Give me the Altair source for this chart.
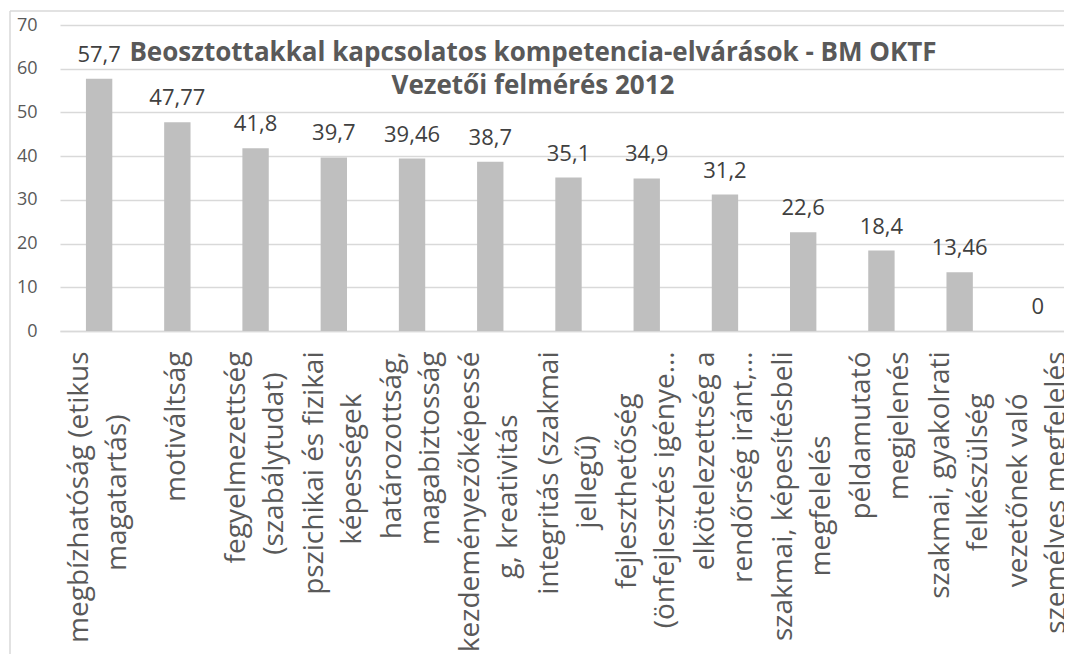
import altair as alt
import pandas as pd

# ---- data ----
category_lines = [
    ["megbízhatóság (etikus", "magatartás)"],
    ["motiváltság"],
    ["fegyelmezettség", "(szabálytudat)"],
    ["pszichikai és fizikai", "képességek"],
    ["határozottság,", "magabiztosság"],
    ["kezdeményezőképessé", "g, kreativitás"],
    ["integritás (szakmai", "jellegű)"],
    ["fejleszthetőség", "(önfejlesztés igénye…"],
    ["elkötelezettség a", "rendőrség iránt,…"],
    ["szakmai, képesítésbeli", "megfelelés"],
    ["példamutató", "megjelenés"],
    ["szakmai, gyakolrati", "felkészülség"],
    ["vezetőnek való", "személyes megfelelés"],
]
values = [57.7, 47.77, 41.8, 39.7, 39.46, 38.7, 35.1, 34.9, 31.2, 22.6, 18.4, 13.46, 0]
y_ticks = [0, 10, 20, 30, 40, 50, 60, 70]
title_lines = [
    "Beosztottakkal kapcsolatos kompetencia-elvárások - BM OKTF",
    "Vezetői felmérés 2012",
]

# ---- wrapped-label centring (Excel centres the lines of a wrapped label) ----
# approximate Open Sans advance widths (em) used only to pad shorter lines
_W = {
    "a": .556, "á": .556, "b": .613, "c": .48, "d": .613, "e": .561, "é": .561,
    "f": .336, "g": .537, "h": .613, "i": .258, "í": .258, "j": .258, "k": .525,
    "l": .258, "m": .928, "n": .613, "o": .602, "ó": .602, "ö": .602, "ő": .602,
    "p": .613, "r": .408, "s": .479, "t": .352, "u": .613, "ú": .613, "ü": .613,
    "ű": .613, "v": .5, "y": .5, "z": .463, " ": .26, "(": .296, ")": .296,
    ",": .245, "…": .8,
}
PAD = "\u2800"  # blank glyph (not collapsed like spaces)
PAD_EM = 0.744


def text_em(s):
    return sum(_W.get(c, .55) for c in s)


def centered(lines):
    m = max(text_em(s) for s in lines)
    return [s + PAD * int(round((m - text_em(s)) / 2 / PAD_EM)) for s in lines]


keys = ["|".join(centered(ls)) for ls in category_lines]
df = pd.DataFrame({"key": keys, "value": values})

W, H = 1004, 306
FONT = "Open Sans"
GRID = "#D9D9D9"

x_enc = alt.X(
    "key:N",
    sort=keys,
    # the category bands run a little past the visible right edge, as in the reference
    scale=alt.Scale(paddingInner=0.663, paddingOuter=0.3315, range=[0, 1017]),
    axis=alt.Axis(
        title=None,
        labelAngle=270,
        labelAlign="right",
        labelBaseline="middle",
        labelFont=FONT,
        labelFontSize=28,
        labelLineHeight=38,
        labelColor="#595959",
        labelPadding=20,
        labelLimit=600,
        labelOverlap=False,
        labelOffset={"condition": {"test": "indexof(datum.value, '|') >= 0", "value": -19}, "value": 0},
        labelExpr="split(datum.label, '|')",
        ticks=False,
        domainColor=GRID,
        domainWidth=1.5,
        grid=False,
    ),
)
y_enc = alt.Y(
    "value:Q",
    scale=alt.Scale(domain=[0, 70], nice=False),
    axis=alt.Axis(
        title=None,
        values=y_ticks,
        grid=True,
        gridColor=GRID,
        gridWidth=1.5,
        domain=False,
        ticks=False,
        labelFont=FONT,
        labelFontSize=18,
        labelColor="#595959",
        labelPadding=23,
    ),
)

base = alt.Chart(df)
bars = base.mark_bar(color="#BFBFBF").encode(x=x_enc, y=y_enc)
labels = (
    base.transform_calculate(lbl="replace(toString(datum.value), '.', ',')")
    .mark_text(baseline="alphabetic", dy=-17, fontSize=22, font=FONT, color="#404040")
    .encode(x=alt.X("key:N", sort=keys), y="value:Q", text="lbl:N")
)

one = pd.DataFrame({"a": [0]})
border_left = alt.Chart(one).mark_rule(color=GRID, strokeWidth=1.5).encode(
    x=alt.value(-50), y=alt.value(-14), y2=alt.value(700)
)
border_top = alt.Chart(one).mark_rule(color=GRID, strokeWidth=1.5).encode(
    x=alt.value(-50), x2=alt.value(1100), y=alt.value(-14)
)

chart = (
    alt.layer(border_left, border_top, bars, labels)
    .properties(
        width=W,
        height=H,
        padding={"left": 52, "top": 17, "right": 0, "bottom": 323},
        autosize=alt.AutoSizeParams(type="none"),
        title=alt.TitleParams(
            text=title_lines,
            font=FONT,
            fontSize=26,
            fontWeight="bold",
            color="#595959",
            anchor="middle",
            frame="group",
            baseline="alphabetic",
            lineHeight=33,
            offset=-110,
            dx=-29,
        ),
    )
    .configure_view(stroke=None)
)

chart.save("out.html", embed_options={"renderer": "svg", "actions": False})
